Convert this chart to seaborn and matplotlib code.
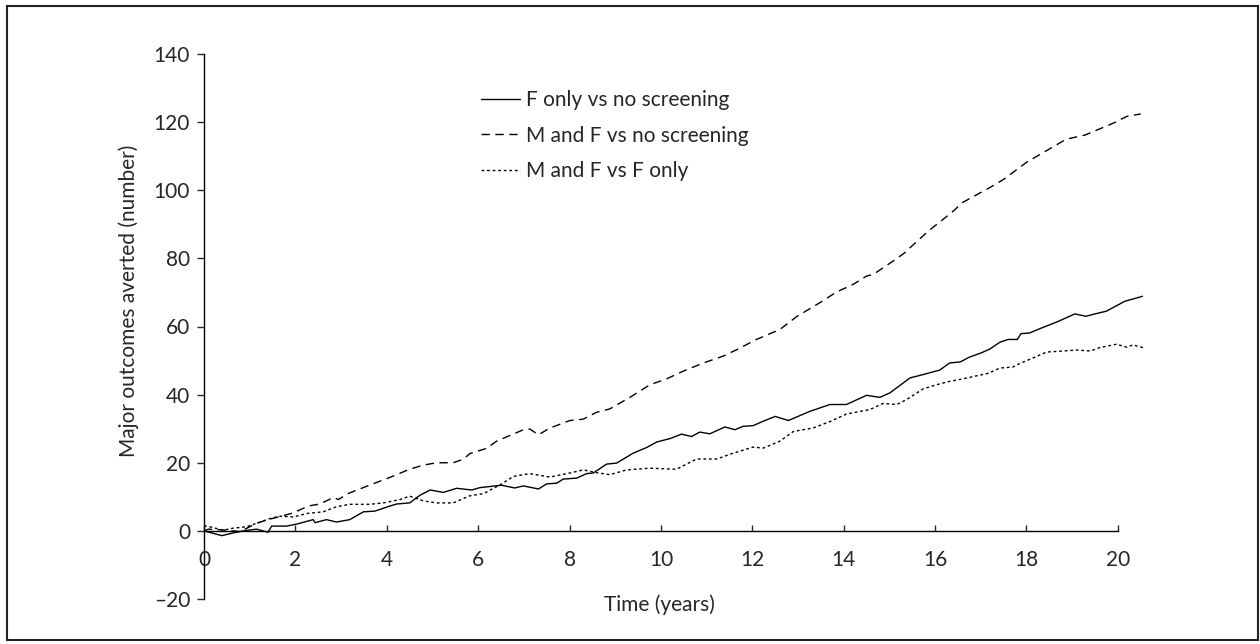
import numpy as np
import pandas as pd
import matplotlib
matplotlib.use('Agg')
import matplotlib.pyplot as plt
import seaborn as sns
from matplotlib.patches import Rectangle

# F only vs no screening
t_f = [0, 0.39, 0.64, 0.86, 1.15, 1.4, 1.48, 1.81, 2.03, 2.39, 2.43, 2.68, 2.9, 3.19, 3.49,
       3.74, 4.07, 4.22, 4.5, 4.73, 4.95, 5.24, 5.53, 5.86, 6.04, 6.51, 6.8, 6.99, 7.32, 7.5,
       7.72, 7.86, 8.16, 8.37, 8.52, 8.81, 9.03, 9.18, 9.39, 9.69, 9.91, 10.2, 10.45, 10.67,
       10.85, 11.07, 11.4, 11.62, 11.8, 12.02, 12.24, 12.5, 12.79, 13.26, 13.7, 14.06, 14.5,
       14.79, 15.01, 15.45, 15.74, 16.1, 16.32, 16.55, 16.75, 17.0, 17.2, 17.42, 17.6, 17.8,
       17.88, 18.07, 18.3, 18.66, 19.06, 19.3, 19.5, 19.75, 20.15, 20.55]
v_f = [0, -1.4, -0.6, 0, 0.5, -0.4, 1.4, 1.4, 2, 3.3, 2.4, 3.3, 2.6, 3.3, 5.6,
       5.8, 7.3, 7.9, 8.2, 10.5, 12, 11.3, 12.5, 12, 12.7, 13.4, 12.6, 13.2, 12.3, 13.8,
       14, 15.2, 15.5, 16.8, 17, 19.6, 19.9, 21.1, 22.8, 24.5, 26.1, 27.1, 28.4, 27.7,
       29, 28.5, 30.5, 29.7, 30.7, 30.9, 32.2, 33.6, 32.4, 35.1, 37.1, 37.1, 39.8,
       39.2, 40.5, 44.9, 45.9, 47.2, 49.3, 49.6, 51.0, 52.2, 53.4, 55.4, 56.2, 56.2,
       57.9, 58.1, 59.4, 61.3, 63.7, 63.0, 63.7, 64.5, 67.4, 68.9]

# M and F vs no screening
t_mf = [0, 0.1, 0.4, 0.79, 1.15, 1.37, 1.63, 1.96, 2.28, 2.54, 2.83, 2.94, 3.16, 3.56, 4.07,
        4.5, 4.8, 5.09, 5.45, 5.67, 5.82, 6.18, 6.4, 6.99, 7.13, 7.32, 7.57, 8.01, 8.3, 8.59,
        8.88, 9.32, 9.76, 10.12, 10.49, 10.93, 11.36, 11.66, 12.09, 12.6, 12.97, 13.48, 13.84,
        14.21, 14.5, 14.65, 15.08, 15.34, 15.45, 15.85, 16.17, 16.4, 16.6, 17.2, 17.5, 18.0,
        18.36, 18.87, 19.28, 19.6, 19.9, 20.2, 20.5]
v_mf = [0, 0.5, 0.3, -0.2, 2.2, 3.2, 4.1, 5.3, 7.3, 7.9, 9.8, 9.2, 11, 13.1, 15.7,
        18.1, 19.3, 20, 20, 21, 22.7, 24.2, 26.3, 29.7, 29.9, 28.2, 30.2, 32.4, 32.8, 34.8,
        35.8, 39.2, 42.9, 44.6, 46.9, 49.3, 51.3, 53.2, 56.2, 59.1, 62.9, 67, 70.1,
        72.4, 74.8, 75.3, 79.2, 81.7, 83.1, 88, 91.4, 93.9, 96.4, 100.8, 103.2, 108.2,
        111, 115, 116.2, 118, 119.7, 121.7, 122.4]

# M and F vs F only
t_mff = [0, 0.13, 0.42, 0.64, 0.93, 1.23, 1.44, 1.66, 1.96, 2.25, 2.61, 2.9, 3.19, 3.63, 3.92,
         4.29, 4.5, 4.8, 5.09, 5.45, 5.82, 6.11, 6.48, 6.77, 7.13, 7.57, 8.01, 8.3, 8.59, 8.88,
         9.25, 9.76, 10.34, 10.78, 11.22, 11.58, 12.02, 12.24, 12.6, 12.9, 13.33, 13.7, 14.06,
         14.57, 14.86, 15.16, 15.37, 15.74, 16.03, 16.32, 16.6, 16.9, 17.15, 17.42, 17.7, 17.85,
         18.15, 18.44, 18.8, 19.1, 19.4, 19.6, 19.97, 20.2, 20.33, 20.55]
v_mff = [1.5, 1.2, 0.2, 0.8, 1.2, 2.6, 3.6, 4.3, 4.1, 5.1, 5.6, 7.1, 7.8, 7.8, 8.2,
         9.2, 10.2, 8.8, 8.2, 8.2, 10.3, 10.9, 13.5, 16, 16.8, 15.8, 17, 17.9, 17.1, 16.5,
         17.9, 18.4, 18.1, 21.1, 21.1, 22.8, 24.6, 24.3, 26.3, 29.2, 30.2, 32.1, 34.3,
         35.6, 37.4, 37.1, 38.5, 41.7, 42.9, 43.9, 44.6, 45.5, 46.2, 47.8, 48.1, 49.1,
         50.8, 52.5, 52.8, 53.1, 52.8, 53.8, 54.8, 53.9, 54.6, 53.8]

labels = ['F only vs no screening', 'M and F vs no screening', 'M and F vs F only']
y_ticks = [-20, 0, 20, 40, 60, 80, 100, 120, 140]
x_ticks = [0, 2, 4, 6, 8, 10, 12, 14, 16, 18, 20]

sns.set_style('ticks')
plt.rcParams['font.family'] = ['Lato', 'DejaVu Sans']

fig = plt.figure(figsize=(12.6, 6.44), dpi=100)
ax = fig.add_axes([204 / 1260, 1 - 599 / 644, (1143 - 204) / 1260, (599 - 54) / 644])

sns.lineplot(x=t_f, y=v_f, ax=ax, color='black', lw=1.0, estimator=None,
             sort=False, label=labels[0])
sns.lineplot(x=t_mf, y=v_mf, ax=ax, color='black', lw=1.0, estimator=None,
             sort=False, label=labels[1], dashes=False)
sns.lineplot(x=t_mff, y=v_mff, ax=ax, color='black', lw=1.0, estimator=None,
             sort=False, label=labels[2], dashes=False)
ax.lines[1].set_dashes([6, 4])
ax.lines[2].set_dashes([2, 2])

ax.set_xlim(0, 20.55)
ax.set_ylim(-20, 140)
ax.set_xticks(x_ticks)
ax.set_yticks(y_ticks)
ax.set_yticklabels(['\u201320' if v < 0 else str(v) for v in y_ticks])
ax.spines['bottom'].set_position(('data', 0))
ax.spines['bottom'].set_bounds(0, 20)
ax.spines['top'].set_visible(False)
ax.spines['right'].set_visible(False)
for s in ['left', 'bottom']:
    ax.spines[s].set_linewidth(1.0)
    ax.spines[s].set_color('black')
ax.tick_params(axis='x', direction='in', length=4, width=1.0, labelsize=15, pad=14)
ax.tick_params(axis='y', direction='out', length=5, width=1.0, labelsize=15, pad=5)

ax.set_xlabel('Time (years)', fontsize=15)
ax.set_ylabel('Major outcomes averted (number)', fontsize=15)
ax.xaxis.set_label_coords(0.485, 0.008)
ax.yaxis.set_label_coords(-0.069, 0.547)

leg = ax.legend(loc='upper left', bbox_to_anchor=(481 / 1260, 1 - 90 / 644),
                bbox_transform=fig.transFigure, frameon=False, fontsize=15,
                handlelength=1.85, handletextpad=0.3, labelspacing=0.75,
                borderpad=0, borderaxespad=0)
for line in leg.get_lines():
    line.set_linewidth(1.0)

fig.patches.append(Rectangle((7 / 1260, 4 / 644), 1251 / 1260, 634 / 644,
                             transform=fig.transFigure, fill=False,
                             edgecolor='#222222', lw=1.5))

fig.savefig('out.png', dpi=100)
